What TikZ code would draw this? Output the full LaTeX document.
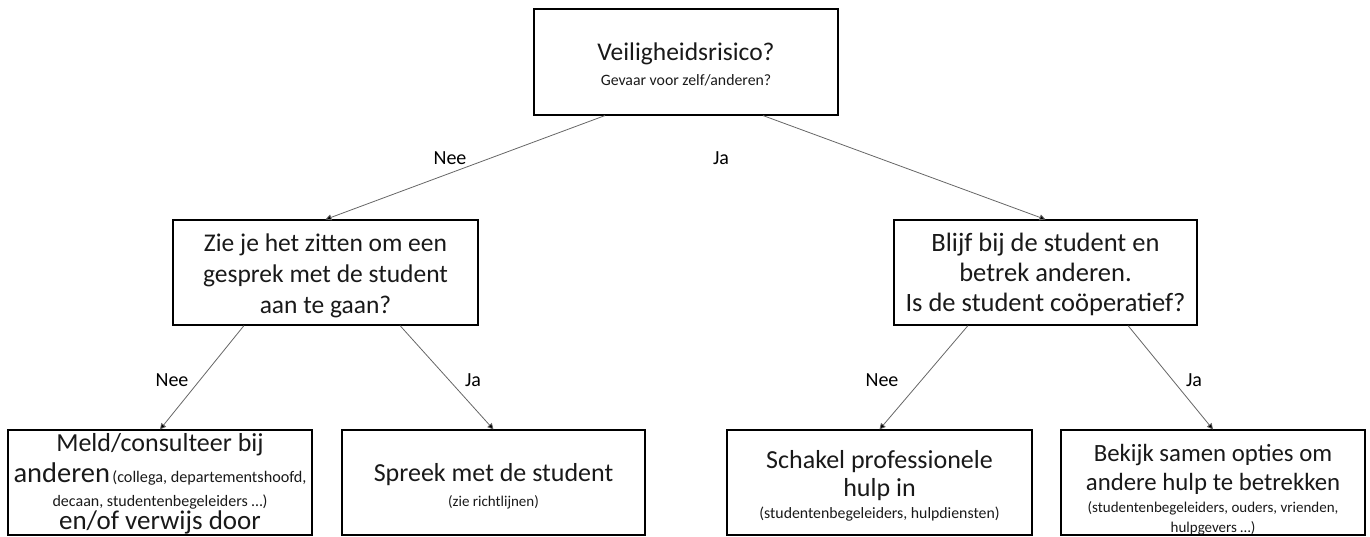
\documentclass[tikz,border=0pt]{standalone}
\usepackage{fontspec}
\setmainfont{Carlito}
\usetikzlibrary{arrows.meta}
\newcommand{\fs}[1]{\fontsize{#1}{1.2\dimexpr #1pt\relax}\selectfont}
\begin{document}
\begin{tikzpicture}[x=1pt,y=-1pt,
  box/.style={draw=black,line width=1.1pt,rectangle,inner sep=0pt},
  txt/.style={anchor=base,inner sep=0pt,text=black!90},
  conn/.style={draw=black!60,line width=0.8pt,-{Triangle[width=6pt,length=6pt,fill=black]}},
  lbl/.style={font=\fs{20}}]
\useasboundingbox (0,0) rectangle (1370,536);
% boxes
\node[box,minimum width=304pt,minimum height=106pt] (top) at (686,62) {};
\node[txt,font=\fs{25.5}] (t1txt) at (686,60) {Veiligheidsrisico?};
\node[txt,font=\fs{15.8}] (t2txt) at (686,85) {Gevaar voor zelf/anderen?};
\node[box,minimum width=305pt,minimum height=105pt] (L) at (325.5,272.5) {};
\node[txt,font=\fs{25.5}] (L1) at (325.5,251) {Zie je het zitten om een};
\node[txt,font=\fs{25.5}] (L2) at (325.5,282) {gesprek met de student};
\node[txt,font=\fs{25.5}] (L3) at (325.5,313) {aan te gaan?};
\node[box,minimum width=303pt,minimum height=105pt] (R) at (1045.5,272.5) {};
\node[txt,font=\fs{26.5}] (R1) at (1045.5,251) {Blijf bij de student en};
\node[txt,font=\fs{26.5}] (R2) at (1045.5,281) {betrek anderen.};
\node[txt,font=\fs{26.5}] (R3) at (1045.5,311) {Is de student coöperatief?};
\node[box,minimum width=304pt,minimum height=105pt] (B1) at (160,482.5) {};
\node[txt,font=\fs{26}] (B1a) at (160,451) {Meld/consulteer bij};
\node[txt] (B1b) at (160,482) {{\fs{28.5}anderen} {\fs{16.2}(collega, departementshoofd,}};
\node[txt,font=\fs{16}] (B1c) at (160,506) {decaan, studentenbegeleiders …)};
\node[txt,font=\fs{27}] (B1d) at (160,529) {en/of verwijs door};
\node[box,minimum width=303pt,minimum height=105pt] (B2) at (493.5,482.5) {};
\node[txt,font=\fs{26}] (B2a) at (493.5,481) {Spreek met de student};
\node[txt,font=\fs{15}] (B2b) at (493.5,506) {(zie richtlijnen)};
\node[box,minimum width=305pt,minimum height=105pt] (B3) at (879.5,482.5) {};
\node[txt,font=\fs{26}] (B3a) at (879.5,468) {Schakel professionele};
\node[txt,font=\fs{26}] (B3b) at (879.5,496) {hulp in};
\node[txt,font=\fs{15.8}] (B3c) at (879.5,518) {(studentenbegeleiders, hulpdiensten)};
\node[box,minimum width=304pt,minimum height=105pt] (B4) at (1213,482.5) {};
\node[txt,font=\fs{24.8}] (B4a) at (1213,461) {Bekijk samen opties om};
\node[txt,font=\fs{24.8}] (B4b) at (1213,490) {andere hulp te betrekken};
\node[txt,font=\fs{15}] (B4c) at (1213,512) {(studentenbegeleiders, ouders, vrienden,};
\node[txt,font=\fs{15}] (B4d) at (1213,532) {hulpgevers …)};
% start points
\coordinate (s1) at ([xshift=-81pt]top.south);
\coordinate (s2) at ([xshift=77pt]top.south);
\coordinate (l1) at ([xshift=-81.5pt]L.south);
\coordinate (l2) at ([xshift=74.5pt]L.south);
\coordinate (r1) at ([xshift=-77.5pt]R.south);
\coordinate (r2) at ([xshift=82.5pt]R.south);
% connectors
\draw[conn] (s1) -- (L.north);
\draw[conn] (s2) -- (R.north);
\draw[conn] (l1) -- (B1.north);
\draw[conn] (l2) -- (B2.north);
\draw[conn] (r1) -- (B3.north);
\draw[conn] (r2) -- (B4.north);
% labels
\node[lbl] (n1) at (450,158) {Nee};
\node[lbl] (j1) at (721,158) {Ja};
\node[lbl] (n2) at (172,380) {Nee};
\node[lbl] (j2) at (473,380) {Ja};
\node[lbl] (n3) at (882,380) {Nee};
\node[lbl] (j3) at (1194,380) {Ja};
\end{tikzpicture}
\end{document}
